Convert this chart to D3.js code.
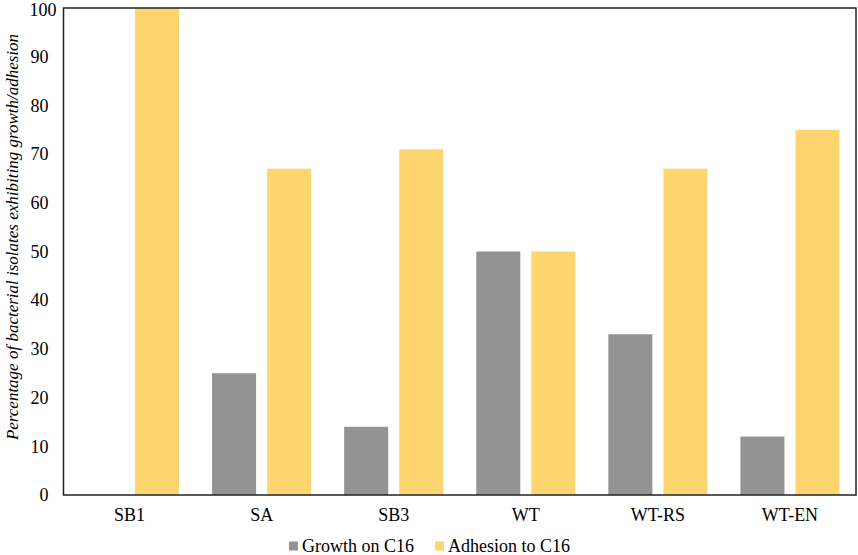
<!DOCTYPE html>
<html>
<head>
<meta charset="utf-8">
<script src="https://cdn.jsdelivr.net/npm/d3@7"></script>
<style>
  body { margin: 0; background: #fff; }
  svg text { font-family: "Liberation Serif", "Times New Roman", serif; fill: #000; }
</style>
</head>
<body>
<div id="chart"></div>
<script>
var categories = ['SB1', 'SA', 'SB3', 'WT', 'WT-RS', 'WT-EN'];
var seriesNames = ['Growth on C16', 'Adhesion to C16'];
var growth = [0, 25, 14, 50, 33, 12];
var adhesion = [100, 67, 71, 50, 67, 75];
var yTicks = [0, 10, 20, 30, 40, 50, 60, 70, 80, 90, 100];
var colors = ['#939393', '#ffd570'];

var width = 858, height = 555;
var margin = { top: 8, right: 2, bottom: 60, left: 63.5 };
var iw = width - margin.left - margin.right;
var ih = height - margin.top - margin.bottom;
var serif = '"Liberation Serif", "Times New Roman", serif';

var svg = d3.select('#chart').append('svg')
  .attr('width', width)
  .attr('height', height);

var g = svg.append('g')
  .attr('transform', 'translate(' + margin.left + ',' + margin.top + ')');

var x0 = d3.scaleBand().domain(categories).range([0, iw]);
var x1 = d3.scaleBand().domain(seriesNames)
  .range([x0.bandwidth() * 0.125, x0.bandwidth() * 0.875])
  .paddingInner(0.2);
var y = d3.scaleLinear().domain([0, 100]).range([ih, 0]);

var rows = categories.map(function(c, i) {
  return { cat: c, values: [growth[i], adhesion[i]] };
});

// BARS
var groups = g.selectAll('g.group')
  .data(rows)
  .enter().append('g')
    .attr('class', 'group')
    .attr('transform', function(d) { return 'translate(' + x0(d.cat) + ',0)'; });

groups.selectAll('rect')
  .data(function(d) { return d.values.map(function(v, k) { return { s: seriesNames[k], v: v, k: k }; }); })
  .enter().append('rect')
    .attr('x', function(d) { return x1(d.s); })
    .attr('width', x1.bandwidth())
    .attr('y', function(d) { return y(d.v); })
    .attr('height', function(d) { return ih - y(d.v); })
    .attr('fill', function(d) { return colors[d.k]; });

// AXES
var yAxis = g.append('g')
  .call(d3.axisLeft(y).tickValues(yTicks).tickSize(0).tickPadding(15));
yAxis.select('.domain').remove();
yAxis.selectAll('text')
  .style('font-family', serif)
  .style('font-size', '18px')
  .attr('dx', function(d) { return d === 100 ? 8 : 0; }) // excel nudges the top label
  .attr('dy', function(d) { return d === 100 ? '0.42em' : '0.32em'; });

var xAxis = g.append('g')
  .attr('transform', 'translate(0,' + ih + ')')
  .call(d3.axisBottom(x0).tickSize(0).tickPadding(13));
xAxis.select('.domain').remove();
xAxis.selectAll('text').style('font-family', serif).style('font-size', '18px');

// FRAME
g.append('rect')
  .attr('x', 0).attr('y', 0)
  .attr('width', iw).attr('height', ih)
  .attr('fill', 'none')
  .attr('stroke', '#222')
  .attr('stroke-width', 1.5);

// Y LABEL
svg.append('text')
  .attr('transform', 'translate(12,237) rotate(-90)')
  .attr('text-anchor', 'middle')
  .attr('dy', '0.35em')
  .style('font-family', serif)
  .style('font-size', '17px')
  .style('font-style', 'italic')
  .text('Percentage of bacterial isolates exhibiting growth/adhesion');

// LEGEND
var legend = svg.append('g').attr('transform', 'translate(0,546)');
var legendX = [289, 435];
seriesNames.forEach(function(s, k) {
  legend.append('rect')
    .attr('x', legendX[k]).attr('y', -4.5)
    .attr('width', 9).attr('height', 9)
    .attr('fill', colors[k]);
  legend.append('text')
    .attr('x', legendX[k] + 13)
    .attr('dy', '0.35em')
    .style('font-family', serif)
    .style('font-size', '18px')
    .text(s);
});
</script>
</body>
</html>
